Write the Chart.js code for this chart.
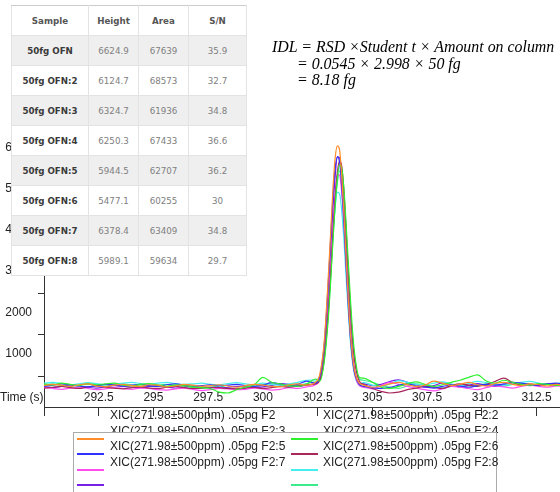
<!DOCTYPE html>
<html><head><meta charset="utf-8">
<script src="https://cdn.jsdelivr.net/npm/chart.js@4/dist/chart.umd.min.js"></script>
<style>
html,body{margin:0;padding:0;background:#fff;}
#wrap{position:relative;width:560px;height:492px;overflow:hidden;font-family:"Liberation Sans",Arial,sans-serif;}
#c{position:absolute;left:0;top:0;}
#tbl{position:absolute;left:11px;top:5px;border-collapse:collapse;width:235px;z-index:5;background:#fff;font-family:"DejaVu Sans",sans-serif;font-size:8.7px;table-layout:fixed;}
#tbl tr{height:30px;}
#tbl td,#tbl th{height:30px;padding:0;text-align:center;border:1px solid #e3e3e3;box-sizing:border-box;}
#tbl th{color:#555;font-weight:bold;border-top:1px solid #ccc;}
#tbl td.n{color:#3a3a3a;font-weight:bold;}
#tbl td.v{color:#808080;}
#tbl tr.g td{background:#efefef;}
#eq{position:absolute;left:272px;top:39px;font-family:"Liberation Serif","Times New Roman",serif;font-style:italic;font-size:15.9px;line-height:16.5px;color:#000;white-space:nowrap;z-index:5;}
#eq .i{padding-left:25px;}
#tlab{position:absolute;left:0;top:390px;font-size:12px;line-height:14px;color:#222;z-index:5;}
.lg-text{position:absolute;font-size:12px;line-height:14px;color:#222;white-space:nowrap;}
.lg-sw{position:absolute;width:27px;height:2px;}
#lgbox{position:absolute;left:73px;top:432px;width:422px;height:80px;border:1.5px solid #aaa;background:#fff;z-index:7;}
</style>
</head><body>
<div id="wrap">
<canvas id="c" width="560" height="492"></canvas>
<table id="tbl">
<colgroup><col style="width:77px"><col style="width:50px"><col style="width:50px"><col style="width:58px"></colgroup>
<tbody id="tb"></tbody>
</table>
<div id="eq"><div>IDL = RSD ×Student t × Amount on column</div><div class="i">= 0.0545 × 2.998 × 50 fg</div><div class="i">= 8.18 fg</div></div>
<div id="tlab">Time (s)</div>
<div id="lgbox"></div>
</div>
<script>
// ---- table data ----
const tableHeader = ['Sample','Height','Area','S/N'];
const sampleNames = ['50fg OFN','50fg OFN:2','50fg OFN:3','50fg OFN:4','50fg OFN:5','50fg OFN:6','50fg OFN:7','50fg OFN:8'];
const heights = ['6624.9','6124.7','6324.7','6250.3','5944.5','5477.1','6378.4','5989.1'];
const areas = ['67639','68573','61936','67433','62707','60255','63409','59634'];
const snRatios = ['35.9','32.7','34.8','36.6','36.2','30','34.8','29.7'];

// ---- chart data ----
const times = [290.0,290.4,290.8,291.2,291.6,292.0,292.4,292.8,293.2,293.6,294.0,294.4,294.8,295.2,295.6,296.0,296.4,296.8,297.2,297.6,298.0,298.4,298.8,299.2,299.6,300.0,300.4,300.8,301.2,301.6,302.0,302.4,
 302.6,302.8,303.0,303.1,303.2,303.3,303.4,303.5,303.6,303.7,303.8,303.9,304.0,304.1,304.2,304.4,
 304.6,305.0,305.4,305.8,306.2,306.6,307.0,307.4,307.8,308.2,308.6,309.0,309.4,309.8,310.2,310.6,311.0,311.4,311.8,312.2,312.6,313.0,313.4,313.8];

const sF2 = [220,250,230,200,240,260,210,190,230,250,220,200,240,230,190,210,250,230,200,220,240,210,180,220,250,230,200,190,240,260,230,300,
 500,1300,3000,4000,5000,5750,6040,5950,5300,4400,3300,2300,1450,900,550,280,
 230,180,210,260,300,240,200,230,330,280,220,250,300,240,210,270,300,250,220,260,240,210,250,230];
const sF2_2 = [260,230,280,250,220,270,240,260,280,230,210,250,270,230,200,240,220,190,170,150,60,40,120,180,240,420,300,260,220,200,260,380,
 330,800,1950,2800,3750,4600,5250,5580,5500,5000,4150,3200,2300,1500,950,420,
 400,300,180,150,200,260,310,250,200,240,300,350,420,480,330,280,350,300,250,230,270,250,220,260];
const sF2_3 = [200,230,260,240,210,190,220,250,240,210,230,250,220,200,240,260,230,200,220,240,210,230,250,220,200,230,290,260,220,250,330,280,
 450,1200,2850,3850,4800,5500,5770,5650,5050,4150,3100,2150,1350,820,500,250,
 200,170,150,180,230,260,210,190,160,200,230,210,180,220,250,230,260,300,280,240,220,260,280,250];
const sF2_4 = [160,180,200,170,150,190,210,180,160,140,170,190,160,150,180,200,170,150,160,180,170,150,140,160,180,150,170,200,180,210,240,260,
 350,900,2150,3000,3950,4800,5400,5680,5550,4950,4000,3000,2050,1300,780,330,
 250,150,80,40,60,120,160,200,180,150,220,260,230,200,250,320,400,300,240,260,230,250,270,240];
const sF2_5 = [170,150,130,160,180,150,120,140,170,150,130,160,150,120,110,140,160,130,100,120,150,140,120,130,160,140,110,130,170,150,190,240,
 380,1000,2350,3250,4150,4900,5350,5330,4900,4150,3200,2300,1450,850,480,220,
 180,140,220,300,250,200,160,120,90,140,200,180,150,120,170,210,190,160,200,230,200,180,210,190];
const sF2_6 = [280,300,270,240,260,290,270,240,260,280,300,270,250,280,300,270,250,260,280,250,240,270,290,260,240,280,250,230,260,300,350,360,
 420,1050,2300,3100,3900,4550,4920,4880,4450,3750,2850,2000,1250,750,450,240,
 300,230,200,260,340,300,250,230,280,310,260,220,270,320,290,250,230,260,300,320,280,250,270,300];
const sF2_7 = [190,170,200,230,210,180,160,190,220,200,180,170,200,220,190,160,180,210,190,170,160,180,200,190,170,190,220,270,250,200,230,280,
 400,1050,2500,3500,4500,5300,5780,5750,5300,4500,3500,2500,1600,950,560,260,
 260,220,250,320,360,300,240,180,220,280,240,190,230,270,220,200,240,280,250,220,250,270,240,220];
const sF2_8 = [240,260,220,200,230,250,230,210,240,260,230,210,200,230,250,220,200,170,150,180,210,160,130,170,210,240,260,230,200,220,270,310,
 340,850,2050,2900,3800,4600,5150,5430,5300,4750,3900,2950,2050,1350,850,380,
 350,300,220,180,150,210,260,230,190,160,200,240,210,230,260,240,210,250,280,250,230,260,240,250];

const seriesNames = ['XIC(271.98±500ppm) .05pg F2','XIC(271.98±500ppm) .05pg F2:2','XIC(271.98±500ppm) .05pg F2:3','XIC(271.98±500ppm) .05pg F2:4',
 'XIC(271.98±500ppm) .05pg F2:5','XIC(271.98±500ppm) .05pg F2:6','XIC(271.98±500ppm) .05pg F2:7','XIC(271.98±500ppm) .05pg F2:8'];
const seriesValues = [sF2,sF2_2,sF2_3,sF2_4,sF2_5,sF2_6,sF2_7,sF2_8];
const seriesColors = ['#ff8c28','#2ef02e','#3232ff','#a8285c','#ff4cf0','#44eeee','#7820e8','#3cec8c'];

const xTickValues = [290,292.5,295,297.5,300,302.5,305,307.5,310,312.5];
const yTickValues = [450,1000,1450,2000,2450,3000,3450,4000,4450,5000,5450,6000,6450];

// ---- build table ----
const tb = document.getElementById('tb');
let h = '<tr>' + tableHeader.map(t=>'<th>'+t+'</th>').join('') + '</tr>';
sampleNames.forEach((n,i)=>{
  h += '<tr class="'+(i%2===0?'g':'')+'"><td class="n">'+n+'</td><td class="v">'+heights[i]+'</td><td class="v">'+areas[i]+'</td><td class="v">'+snRatios[i]+'</td></tr>';
});
tb.innerHTML = h;

// ---- chart ----
const tickFont = {family:'Liberation Sans', size:12};
const chart = new Chart(document.getElementById('c'), {
  type:'line',
  data:{
    datasets: seriesValues.map((vals,i)=>({
      label: seriesNames[i],
      data: times.map((t,j)=>({x:t,y:vals[j]})),
      borderColor: seriesColors[i],
      backgroundColor: seriesColors[i],
      borderWidth:1.2,
      pointRadius:0,
      fill:false,
      cubicInterpolationMode:'monotone'
    }))
  },
  options:{
    responsive:false, animation:false,
    layout:{padding:{top:127,left:0,right:0,bottom:0}},
    plugins:{legend:{display:false},tooltip:{enabled:false},title:{display:false}},
    scales:{
      x:{type:'linear',min:290,max:313.57,
        afterBuildTicks:ax=>{ax.ticks = xTickValues.map(v=>({value:v}));},
        afterFit:ax=>{ax.height = 85; ax.paddingLeft = 0; ax.paddingRight = 0;},
        grid:{drawOnChartArea:false,tickLength:9,tickColor:'#333',tickWidth:1},
        border:{color:'#333',width:1},
        ticks:{mirror:true,padding:2,maxRotation:0,autoSkip:false,color:'#222',font:tickFont,
          callback:v=> v===290 ? '' : String(v)}
      },
      y:{min:-300,max:6500,
        afterBuildTicks:ax=>{ax.ticks = yTickValues.map(v=>({value:v}));},
        afterFit:ax=>{ax.width = 44; ax.paddingTop = 0; ax.paddingBottom = 0;},
        grid:{drawOnChartArea:false,tickLength:6,
          tickColor:ctx=> (ctx.tick && ctx.tick.value % 1000 === 0) ? 'rgba(0,0,0,0)' : '#333'},
        border:{color:'#333',width:1},
        ticks:{padding:6,autoSkip:false,color:'#222',font:tickFont,
          callback:v=> v % 1000 === 0 ? String(v) : ''}
      }
    }
  }
});

// ---- HTML legend built from datasets ----
const wrap = document.getElementById('wrap');
chart.data.datasets.forEach((ds,i)=>{
  const col = i % 2, row = Math.floor(i/2);
  const lab = document.createElement('div');
  lab.className = 'lg-text';
  lab.textContent = ds.label;
  lab.style.left = (col ? 323 : 110) + 'px';
  lab.style.top = (408 + row*15.5) + 'px';
  lab.style.zIndex = row < 2 ? 6 : 8;
  wrap.appendChild(lab);
  const sw = document.createElement('div');
  sw.className = 'lg-sw';
  sw.style.background = ds.borderColor;
  sw.style.left = (col ? 291 : 77) + 'px';
  sw.style.top = (438 + row*15.4) + 'px';
  sw.style.zIndex = 8;
  wrap.appendChild(sw);
});
</script>
</body></html>
